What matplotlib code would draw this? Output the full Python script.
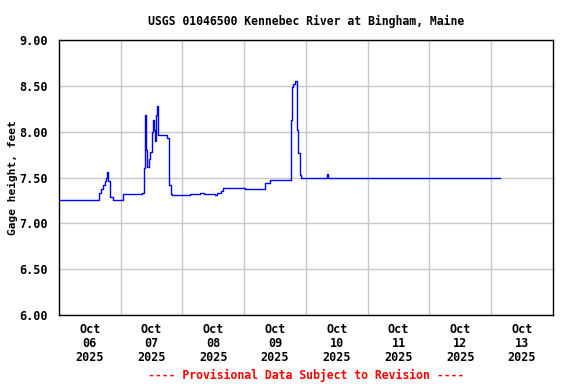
import numpy as np
import matplotlib
matplotlib.use("Agg")
import matplotlib.pyplot as plt

# hours since 2025-10-06 00:00 and gage height (ft)
hours = [0.0, 15.2, 15.5, 16.3, 17.1, 17.9, 18.4, 18.7, 19.0, 19.8, 21.0,
         24.1, 24.9, 32.3, 33.0, 33.4, 34.0, 34.2, 35.0, 35.4, 36.1, 36.5,
         36.9, 37.3, 37.7, 38.1, 38.5, 42.0, 42.8, 43.5, 43.9, 50.9, 55.0,
         56.5, 60.6, 61.5, 63.0, 63.7, 72.3, 79.3, 80.1, 82.0, 89.8, 90.2,
         90.6, 91.0, 91.7, 92.1, 92.5, 92.9, 93.7, 94.1, 103.8, 104.2, 104.5,
         115.0, 171.4]
gage = [7.26, 7.26, 7.33, 7.38, 7.42, 7.46, 7.49, 7.56, 7.46, 7.29, 7.26,
        7.26, 7.32, 7.33, 7.60, 8.18, 7.80, 7.62, 7.70, 7.78, 8.00, 8.13,
        8.02, 7.90, 8.18, 8.28, 7.96, 7.93, 7.42, 7.32, 7.31, 7.32, 7.33,
        7.32, 7.31, 7.33, 7.35, 7.39, 7.37, 7.37, 7.44, 7.47, 7.47, 8.13,
        8.49, 8.52, 8.55, 8.55, 8.02, 7.77, 7.53, 7.49, 7.49, 7.54, 7.49,
        7.50, 7.50]

day_labels = ["Oct\n06\n2025", "Oct\n07\n2025", "Oct\n08\n2025", "Oct\n09\n2025",
              "Oct\n10\n2025", "Oct\n11\n2025", "Oct\n12\n2025", "Oct\n13\n2025"]
y_ticks = [6.0, 6.5, 7.0, 7.5, 8.0, 8.5, 9.0]

font = "DejaVu Sans Mono"

fig = plt.figure(figsize=(5.76, 3.84), dpi=100)
ax = fig.add_axes([0.1024, 0.1797, 0.8576, 0.7161])

ax.plot(hours, gage, color="#0000ff", linewidth=1.0, drawstyle="steps-post")

ax.set_xlim(0, 192)
ax.set_ylim(6.0, 9.0)

ax.set_xticks(np.arange(24, 192, 24))
ax.set_xticks(np.arange(12, 192, 24), minor=True)
ax.set_xticklabels([])
ax.set_xticklabels(day_labels, minor=True, fontfamily=font,
                   fontweight="bold", fontsize=8.5, linespacing=1.08)
ax.set_yticks(y_ticks)
ax.set_yticklabels(["%.2f" % v for v in y_ticks], fontfamily=font,
                   fontweight="bold", fontsize=8.5)
ax.tick_params(which="both", length=0, pad=8)
ax.tick_params(axis="x", which="minor", pad=6)
ax.grid(True, which="major", color="#c8c8c8", linewidth=1)

for s in ax.spines.values():
    s.set_linewidth(1)
    s.set_color("black")

ax.set_ylabel("Gage height, feet", fontfamily=font, fontweight="bold",
              fontsize=8, labelpad=1)
ax.set_title("USGS 01046500 Kennebec River at Bingham, Maine",
             fontfamily=font, fontweight="bold", fontsize=8.3, pad=11)

fig.text(0.531, 0.0234, "---- Provisional Data Subject to Revision ----",
         color="#ff0000", ha="center", va="center", fontfamily=font,
         fontweight="bold", fontsize=8.3)

fig.savefig("out.png", dpi=100)
